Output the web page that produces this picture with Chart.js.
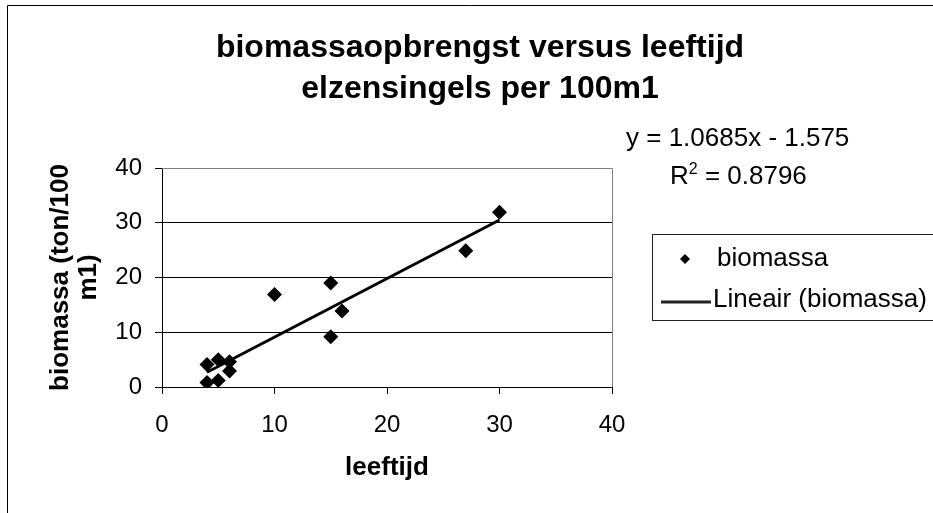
<!DOCTYPE html>
<html>
<head>
<meta charset="utf-8">
<script src="https://cdn.jsdelivr.net/npm/chart.js@4/dist/chart.umd.min.js"></script>
<style>
  html, body { margin: 0; padding: 0; background: #fff; overflow: hidden; }
  canvas { display: block; }
</style>
</head>
<body>
<canvas id="chart" width="933" height="513"></canvas>
<script>
// ── data ────────────────────────────────────────────────────────────────
var leeftijd = [4, 5, 6, 6, 4, 5, 10, 15, 16, 15, 27, 30];
var biomassa = [4.1, 5.0, 4.6, 2.9, 0.8, 1.2, 16.9, 19.0, 13.9, 9.2, 24.9, 31.9];

// trendlijn (begin- en eindpunt zoals in de grafiek)
var trendX = [4, 30];
var trendY = [2.7, 30.5];

var xTicks = [0, 10, 20, 30, 40];
var yTicks = [0, 10, 20, 30, 40];

var titleLines = ["biomassaopbrengst versus leeftijd", "elzensingels per 100m1"];
var xTitle     = "leeftijd";
var yTitle     = ["biomassa (ton/100", "m1)"];
var eqLine     = "y = 1.0685x - 1.575";
var r2Value    = " = 0.8796";

var FONT = "'Liberation Sans', Arial, sans-serif";

function pts(xs, ys) {
  return xs.map(function(x, i) { return { x: x, y: ys[i] }; });
}

// ── extra tekenwerk: kader, titel, vergelijking, legenda, astitels ─────
var decorPlugin = {
  id: "decor",
  beforeDatasetsDraw: function(chart) {
    var a = chart.chartArea, c = chart.ctx;
    c.save();
    c.strokeStyle = "#808080";
    c.lineWidth = 1;
    c.beginPath();
    c.moveTo(a.left, a.top + 0.5);
    c.lineTo(a.right + 0.5, a.top + 0.5);
    c.lineTo(a.right + 0.5, a.bottom);
    c.stroke();
    c.restore();
  },
  afterDraw: function(chart) {
    var c = chart.ctx, a = chart.chartArea;
    c.save();

    // buitenkader
    c.strokeStyle = "#000";
    c.lineWidth = 1;
    c.beginPath();
    c.moveTo(7.5, 520);
    c.lineTo(7.5, 5.5);
    c.lineTo(940, 5.5);
    c.stroke();

    // titel
    c.fillStyle = "#000";
    c.textAlign = "center";
    c.textBaseline = "alphabetic";
    c.font = "bold 32px " + FONT;
    c.fillText(titleLines[0], 480, 57);
    c.fillText(titleLines[1], 480, 98);

    // x-as titel
    c.font = "bold 26px " + FONT;
    c.fillText(xTitle, (a.left + a.right) / 2, 475);

    // y-as titel (gedraaid)
    c.save();
    c.translate(0, (a.top + a.bottom) / 2);
    c.rotate(-Math.PI / 2);
    c.fillText(yTitle[0], 0, 68);
    c.fillText(yTitle[1], 0, 96);
    c.restore();

    // vergelijking + R²
    c.textAlign = "left";
    c.font = "26px " + FONT;
    c.fillText(eqLine, 626, 146);
    var rx = 670, ry = 184;
    c.fillText("R", rx, ry);
    var wR = c.measureText("R").width;
    c.font = "16px " + FONT;
    c.fillText("2", rx + wR, ry - 10);
    var w2 = c.measureText("2").width;
    c.font = "26px " + FONT;
    c.fillText(r2Value, rx + wR + w2, ry);

    // legenda
    c.strokeStyle = "#222";
    c.strokeRect(652.5, 234.5, 320, 86);
    var ds = chart.data.datasets;
    c.fillStyle = "#000";
    c.beginPath();
    c.moveTo(685, 254);
    c.lineTo(690, 259);
    c.lineTo(685, 264);
    c.lineTo(680, 259);
    c.closePath();
    c.fill();
    c.textBaseline = "middle";
    c.fillText(ds[0].label, 717, 259);
    c.lineWidth = 3;
    c.beginPath();
    c.moveTo(661, 302);
    c.lineTo(711, 302);
    c.stroke();
    c.fillText(ds[1].label, 713, 300);

    c.restore();
  }
};

new Chart(document.getElementById("chart"), {
  type: "scatter",
  data: {
    datasets: [
      {
        label: "biomassa",
        data: pts(leeftijd, biomassa),
        pointStyle: "rectRot",
        pointRadius: 7.5,
        backgroundColor: "#000",
        borderColor: "#000",
        borderWidth: 0,
        order: 1
      },
      {
        label: "Lineair (biomassa)",
        type: "line",
        data: pts(trendX, trendY),
        borderColor: "#000",
        borderWidth: 3,
        pointRadius: 0,
        fill: false,
        order: 2
      }
    ]
  },
  options: {
    responsive: false,
    animation: false,
    devicePixelRatio: 1,
    layout: { padding: { left: 0, top: 168, right: 321, bottom: 0 } },
    plugins: {
      legend: { display: false },
      title: { display: false },
      tooltip: { enabled: false }
    },
    scales: {
      x: {
        type: "linear",
        min: 0, max: 40,
        afterFit: function(s) { s.height = 126; },
        afterBuildTicks: function(s) { s.ticks = xTicks.map(function(v) { return { value: v }; }); },
        ticks: { color: "#000", padding: 17, font: { family: FONT, size: 24 } },
        grid: { drawOnChartArea: false, drawTicks: true, tickLength: 7, tickColor: "#000", lineWidth: 1 },
        border: { color: "#000", width: 1 }
      },
      y: {
        type: "linear",
        min: 0, max: 40,
        afterFit: function(s) { s.width = 162; },
        afterBuildTicks: function(s) { s.ticks = yTicks.map(function(v) { return { value: v }; }); },
        ticks: { color: "#000", padding: 13, font: { family: FONT, size: 24 } },
        grid: {
          color: function(ctx) { return ctx.tick && ctx.tick.value === 40 ? "#808080" : "#000"; },
          tickColor: "#000", tickLength: 7, lineWidth: 1
        },
        border: { color: "#000", width: 1 }
      }
    }
  },
  plugins: [decorPlugin]
});
</script>
</body>
</html>
